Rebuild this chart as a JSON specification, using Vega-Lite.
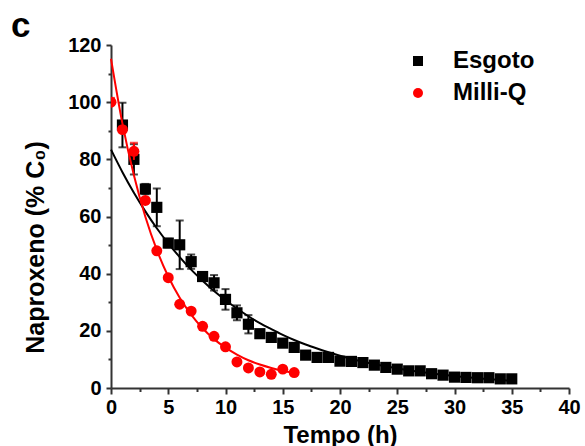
{
  "$schema": "https://vega.github.io/schema/vega-lite/v6.json",
  "width": 458,
  "height": 343,
  "autosize": "none",
  "padding": {"left": 111, "top": 45, "right": 16, "bottom": 58},
  "title": {"text": "c", "anchor": "start", "frame": "group", "fontSize": 35, "font": "Liberation Sans", "fontWeight": "bold", "baseline": "alphabetic", "offset": 1, "dx": -100, "dy": 38, "color": "black"},
  "datasets": {
    "pts": [
      {"series": "Esgoto", "t": 1, "v": 92, "lo": 84.2, "hi": 99.8},
      {"series": "Esgoto", "t": 2, "v": 80, "lo": 74.7, "hi": 85.3},
      {"series": "Esgoto", "t": 3, "v": 69.6, "lo": 67.8, "hi": 71.4},
      {"series": "Esgoto", "t": 4, "v": 63.2, "lo": 56.6, "hi": 69.8},
      {"series": "Esgoto", "t": 5, "v": 50.7, "lo": 49.2, "hi": 52.2},
      {"series": "Esgoto", "t": 6, "v": 50.1, "lo": 41.6, "hi": 58.6},
      {"series": "Esgoto", "t": 7, "v": 44.2, "lo": 41.7, "hi": 46.7},
      {"series": "Esgoto", "t": 8, "v": 39.0, "lo": 38.0, "hi": 40.0},
      {"series": "Esgoto", "t": 9, "v": 36.8, "lo": 34.1, "hi": 39.5},
      {"series": "Esgoto", "t": 10, "v": 31.0, "lo": 27.4, "hi": 34.6},
      {"series": "Esgoto", "t": 11, "v": 26.3, "lo": 23.7, "hi": 28.9},
      {"series": "Esgoto", "t": 12, "v": 22.3, "lo": 19.1, "hi": 25.5},
      {"series": "Esgoto", "t": 13, "v": 19.0, "lo": 18.0, "hi": 20.0},
      {"series": "Esgoto", "t": 14, "v": 17.7, "lo": 16.7, "hi": 18.7},
      {"series": "Esgoto", "t": 15, "v": 15.7},
      {"series": "Esgoto", "t": 16, "v": 14.2},
      {"series": "Esgoto", "t": 17, "v": 11.5},
      {"series": "Esgoto", "t": 18, "v": 10.7},
      {"series": "Esgoto", "t": 19, "v": 10.7},
      {"series": "Esgoto", "t": 20, "v": 9.4},
      {"series": "Esgoto", "t": 21, "v": 9.3},
      {"series": "Esgoto", "t": 22, "v": 8.9},
      {"series": "Esgoto", "t": 23, "v": 8.0},
      {"series": "Esgoto", "t": 24, "v": 7.2},
      {"series": "Esgoto", "t": 25, "v": 6.6},
      {"series": "Esgoto", "t": 26, "v": 6.0},
      {"series": "Esgoto", "t": 27, "v": 6.0},
      {"series": "Esgoto", "t": 28, "v": 5.0},
      {"series": "Esgoto", "t": 29, "v": 4.5},
      {"series": "Esgoto", "t": 30, "v": 3.8},
      {"series": "Esgoto", "t": 31, "v": 3.7},
      {"series": "Esgoto", "t": 32, "v": 3.6},
      {"series": "Esgoto", "t": 33, "v": 3.6},
      {"series": "Esgoto", "t": 34, "v": 3.2},
      {"series": "Esgoto", "t": 35, "v": 3.2},
      {"series": "Milli-Q", "t": 0, "v": 100, "lo": 98.5, "hi": 101.5},
      {"series": "Milli-Q", "t": 1, "v": 90.4, "lo": 89.4, "hi": 91.4},
      {"series": "Milli-Q", "t": 2, "v": 82.8, "lo": 79.8, "hi": 85.8},
      {"series": "Milli-Q", "t": 3, "v": 65.6},
      {"series": "Milli-Q", "t": 4, "v": 48.0},
      {"series": "Milli-Q", "t": 5, "v": 38.6},
      {"series": "Milli-Q", "t": 6, "v": 29.3},
      {"series": "Milli-Q", "t": 7, "v": 26.9},
      {"series": "Milli-Q", "t": 8, "v": 21.6},
      {"series": "Milli-Q", "t": 9, "v": 18.1},
      {"series": "Milli-Q", "t": 10, "v": 14.4},
      {"series": "Milli-Q", "t": 11, "v": 9.1},
      {"series": "Milli-Q", "t": 12, "v": 7.0},
      {"series": "Milli-Q", "t": 13, "v": 5.6},
      {"series": "Milli-Q", "t": 14, "v": 4.8},
      {"series": "Milli-Q", "t": 15, "v": 6.6},
      {"series": "Milli-Q", "t": 16, "v": 5.4}
    ],
    "fit": [
      {"series": "Esgoto", "t": 0, "v": 83.4},
      {"series": "Esgoto", "t": 1, "v": 75.5},
      {"series": "Esgoto", "t": 2, "v": 68.3},
      {"series": "Esgoto", "t": 3, "v": 61.8},
      {"series": "Esgoto", "t": 4, "v": 55.9},
      {"series": "Esgoto", "t": 5, "v": 50.6},
      {"series": "Esgoto", "t": 6, "v": 45.8},
      {"series": "Esgoto", "t": 7, "v": 41.4},
      {"series": "Esgoto", "t": 8, "v": 37.5},
      {"series": "Esgoto", "t": 9, "v": 33.9},
      {"series": "Esgoto", "t": 10, "v": 30.7},
      {"series": "Esgoto", "t": 11, "v": 27.8},
      {"series": "Esgoto", "t": 12, "v": 25.1},
      {"series": "Esgoto", "t": 13, "v": 22.7},
      {"series": "Esgoto", "t": 14, "v": 20.6},
      {"series": "Esgoto", "t": 15, "v": 18.6},
      {"series": "Esgoto", "t": 16, "v": 16.8},
      {"series": "Esgoto", "t": 17, "v": 15.2},
      {"series": "Esgoto", "t": 18, "v": 13.8},
      {"series": "Esgoto", "t": 19, "v": 12.5},
      {"series": "Esgoto", "t": 20, "v": 11.3},
      {"series": "Esgoto", "t": 22, "v": 9.2},
      {"series": "Esgoto", "t": 24, "v": 7.6},
      {"series": "Esgoto", "t": 26, "v": 6.2},
      {"series": "Esgoto", "t": 28, "v": 5.1},
      {"series": "Esgoto", "t": 30, "v": 4.2},
      {"series": "Esgoto", "t": 32, "v": 3.4},
      {"series": "Esgoto", "t": 35, "v": 2.5},
      {"series": "Milli-Q", "t": 0, "v": 115.2},
      {"series": "Milli-Q", "t": 1, "v": 92.5},
      {"series": "Milli-Q", "t": 2, "v": 74.4},
      {"series": "Milli-Q", "t": 3, "v": 59.9},
      {"series": "Milli-Q", "t": 4, "v": 48.3},
      {"series": "Milli-Q", "t": 5, "v": 39.0},
      {"series": "Milli-Q", "t": 6, "v": 31.6},
      {"series": "Milli-Q", "t": 7, "v": 25.7},
      {"series": "Milli-Q", "t": 8, "v": 20.9},
      {"series": "Milli-Q", "t": 9, "v": 17.1},
      {"series": "Milli-Q", "t": 10, "v": 14.1},
      {"series": "Milli-Q", "t": 11, "v": 11.7},
      {"series": "Milli-Q", "t": 12, "v": 9.7},
      {"series": "Milli-Q", "t": 13, "v": 8.2},
      {"series": "Milli-Q", "t": 14, "v": 7.0},
      {"series": "Milli-Q", "t": 15, "v": 6.0},
      {"series": "Milli-Q", "t": 16, "v": 5.2}
    ]
  },
  "encoding": {
    "x": {
      "field": "t", "type": "quantitative",
      "scale": {"domain": [0, 40], "nice": false},
      "axis": {
        "title": "Tempo (h)",
        "values": [0, 2.5, 5, 7.5, 10, 12.5, 15, 17.5, 20, 22.5, 25, 27.5, 30, 32.5, 35, 37.5, 40],
        "labelExpr": "datum.value % 5 == 0 ? datum.label : ''",
        "tickSize": {"condition": {"test": "datum.value % 5 != 0", "value": 3.5}, "value": 6},
        "labelPadding": 3,
        "labelFlush": false,
        "labelOverlap": false,
        "titleY": 54,
        "titleBaseline": "alphabetic"
      }
    },
    "y": {
      "field": "v", "type": "quantitative",
      "scale": {"domain": [0, 120], "nice": false},
      "axis": {
        "title": "Naproxeno (% C₀)",
        "values": [0, 10, 20, 30, 40, 50, 60, 70, 80, 90, 100, 110, 120],
        "labelExpr": "datum.value % 20 == 0 ? datum.label : ''",
        "tickSize": {"condition": {"test": "datum.value % 20 != 0", "value": 3}, "value": 5},
        "labelPadding": 5,
        "labelFlush": false,
        "labelOverlap": false,
        "titleX": -68,
        "titleY": 202,
        "titleBaseline": "alphabetic",
        "titleFontSize": 25
      }
    }
  },
  "layer": [
    {
      "data": {"name": "fit"},
      "transform": [{"filter": "datum.series == 'Esgoto'"}],
      "mark": {"type": "line", "color": "black", "strokeWidth": 2, "interpolate": "monotone"},
      "encoding": {}
    },
    {
      "data": {"name": "pts"},
      "transform": [{"filter": "datum.series == 'Esgoto' && isValid(datum.lo)"}],
      "mark": {"type": "rule", "color": "black", "strokeWidth": 2},
      "encoding": {"y": {"field": "lo", "type": "quantitative"}, "y2": {"field": "hi"}}
    },
    {
      "data": {"name": "pts"},
      "transform": [{"filter": "datum.series == 'Esgoto' && isValid(datum.lo)"}],
      "mark": {"type": "tick", "color": "black", "orient": "horizontal", "size": 8, "thickness": 2},
      "encoding": {"y": {"field": "lo", "type": "quantitative"}}
    },
    {
      "data": {"name": "pts"},
      "transform": [{"filter": "datum.series == 'Esgoto' && isValid(datum.hi)"}],
      "mark": {"type": "tick", "color": "black", "orient": "horizontal", "size": 8, "thickness": 2},
      "encoding": {"y": {"field": "hi", "type": "quantitative"}}
    },
    {
      "data": {"name": "pts"},
      "transform": [{"filter": "datum.series == 'Esgoto'"}],
      "mark": {"type": "point", "filled": true, "opacity": 1, "size": 125},
      "encoding": {
        "color": {"field": "series", "type": "nominal", "scale": {"domain": ["Esgoto", "Milli-Q"], "range": ["#000000", "#ff0000"]}, "legend": {"title": null}},
        "shape": {"field": "series", "type": "nominal", "scale": {"domain": ["Esgoto", "Milli-Q"], "range": ["square", "circle"]}, "legend": {"title": null}}
      }
    },
    {
      "data": {"name": "pts"},
      "transform": [{"filter": "datum.series == 'Milli-Q' && isValid(datum.lo)"}],
      "mark": {"type": "rule", "color": "#ff0000", "strokeWidth": 2, "clip": true},
      "encoding": {"y": {"field": "lo", "type": "quantitative"}, "y2": {"field": "hi"}}
    },
    {
      "data": {"name": "pts"},
      "transform": [{"filter": "datum.series == 'Milli-Q' && isValid(datum.hi)"}],
      "mark": {"type": "tick", "color": "#ff0000", "orient": "horizontal", "size": 8, "thickness": 2, "clip": true},
      "encoding": {"y": {"field": "hi", "type": "quantitative"}}
    },
    {
      "data": {"name": "pts"},
      "transform": [{"filter": "datum.series == 'Milli-Q'"}],
      "mark": {"type": "point", "filled": true, "opacity": 1, "size": 120, "clip": true},
      "encoding": {
        "color": {"field": "series", "type": "nominal", "scale": {"domain": ["Esgoto", "Milli-Q"], "range": ["#000000", "#ff0000"]}, "legend": {"title": null}},
        "shape": {"field": "series", "type": "nominal", "scale": {"domain": ["Esgoto", "Milli-Q"], "range": ["square", "circle"]}, "legend": {"title": null}}
      }
    },
    {
      "data": {"name": "fit"},
      "transform": [{"filter": "datum.series == 'Milli-Q'"}],
      "mark": {"type": "line", "color": "#ff0000", "strokeWidth": 2, "interpolate": "monotone"},
      "encoding": {}
    }
  ],
  "config": {
    "view": {"stroke": null},
    "axis": {
      "grid": false,
      "domainColor": "#333333", "domainWidth": 2,
      "tickColor": "#333333", "tickWidth": 2,
      "labelFont": "Liberation Sans", "labelFontWeight": "bold", "labelFontSize": 20, "labelColor": "black",
      "titleFont": "Liberation Sans", "titleFontWeight": "bold", "titleFontSize": 24, "titleColor": "black"
    },
    "legend": {
      "orient": "none", "legendX": 295, "legendY": 4,
      "padding": 0, "symbolSize": 100, "symbolStrokeWidth": 0,
      "labelFont": "Liberation Sans", "labelFontWeight": "bold", "labelFontSize": 24, "labelColor": "black",
      "labelOffset": 23, "rowPadding": 8
    }
  }
}
